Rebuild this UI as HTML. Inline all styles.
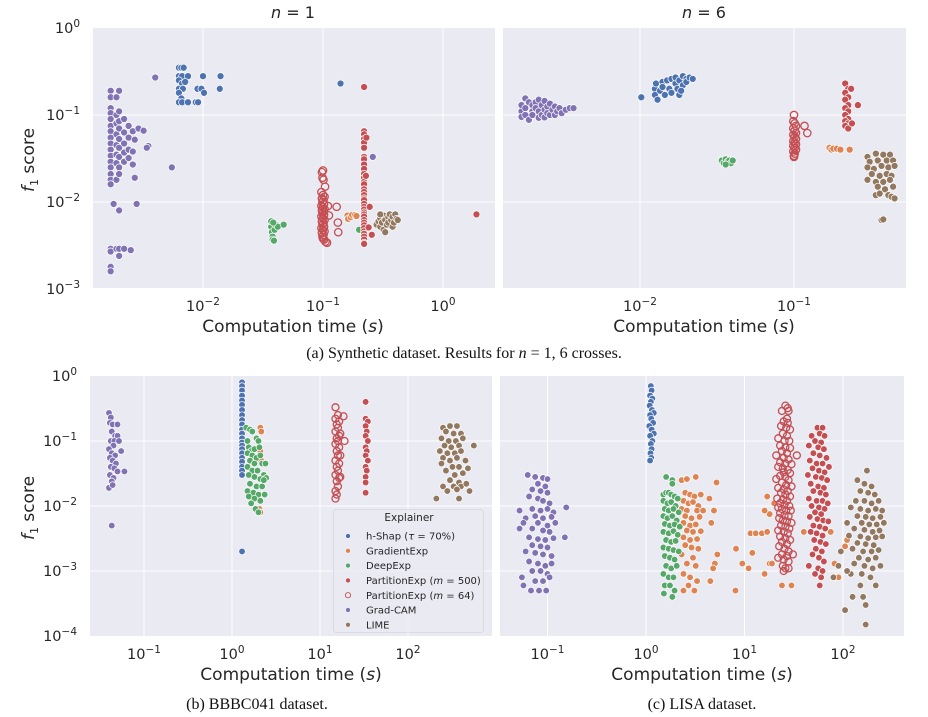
<!DOCTYPE html>
<html><head><meta charset="utf-8"><style>
html,body{margin:0;padding:0;background:#fff;}
svg{display:block;}
</style></head><body>
<svg id="fig" width="928" height="717" viewBox="0 0 928 717" xmlns="http://www.w3.org/2000/svg" font-family="DejaVu Sans, Liberation Sans, sans-serif"></svg>
<script>
// ---------- data (x = computation time s, y = f1 score) ----------
const aL_purple=[[0.0017,0.19],[0.0017,0.16],[0.0017,0.12],[0.0017,0.105],[0.0017,0.09],[0.0017,0.075],[0.0017,0.065],[0.0017,0.055],[0.0017,0.047],[0.0017,0.04],[0.0017,0.034],[0.0017,0.029],[0.0017,0.025],[0.0017,0.021],[0.0017,0.018],[0.0017,0.016],[0.0017,0.0029],[0.0017,0.0027],[0.0017,0.0018],[0.0017,0.0016],[0.0019,0.16],[0.0019,0.1],[0.0019,0.08],[0.0019,0.06],[0.0019,0.045],[0.0019,0.035],[0.0019,0.028],[0.0019,0.018],[0.0018,0.0095],[0.0019,0.0029],[0.002,0.19],[0.002,0.11],[0.002,0.085],[0.002,0.07],[0.002,0.053],[0.002,0.042],[0.002,0.033],[0.002,0.025],[0.002,0.021],[0.002,0.008],[0.002,0.0029],[0.002,0.0024],[0.0022,0.09],[0.0022,0.063],[0.0022,0.047],[0.0022,0.037],[0.0022,0.029],[0.0022,0.0029],[0.0024,0.075],[0.0024,0.055],[0.0024,0.04],[0.0024,0.032],[0.0025,0.0028],[0.0026,0.065],[0.0026,0.038],[0.0026,0.027],[0.0027,0.052],[0.0027,0.019],[0.0028,0.0095],[0.0029,0.07],[0.0032,0.066],[0.0035,0.044],[0.0034,0.042],[0.004,0.27],[0.0055,0.025],[0.26,0.033]];
const aL_blue=[[0.0063,0.35],[0.0066,0.35],[0.0069,0.35],[0.0063,0.28],[0.0067,0.28],[0.0075,0.28],[0.0063,0.25],[0.0067,0.23],[0.0063,0.2],[0.0068,0.2],[0.0063,0.18],[0.0066,0.155],[0.0063,0.14],[0.0067,0.14],[0.0075,0.14],[0.0087,0.14],[0.0091,0.14],[0.009,0.2],[0.0097,0.2],[0.01,0.28],[0.0102,0.18],[0.014,0.28],[0.0138,0.2],[0.0071,0.24],[0.14,0.23]];
const aL_green=[[0.037,0.0052],[0.0375,0.0045],[0.038,0.004],[0.038,0.0037],[0.0395,0.0048],[0.04,0.0055],[0.042,0.0052],[0.047,0.0055],[0.037,0.006],[0.0385,0.0058],[0.039,0.0036],[0.2,0.0048]];
const aL_orange=[[0.16,0.007],[0.162,0.0064],[0.17,0.0067],[0.175,0.0071],[0.185,0.0071],[0.19,0.0069]];
const aL_brown=[[0.28,0.0055],[0.29,0.006],[0.3,0.0052],[0.3,0.0065],[0.31,0.0058],[0.32,0.0048],[0.32,0.007],[0.33,0.0062],[0.34,0.0055],[0.35,0.0067],[0.35,0.0058],[0.36,0.0072],[0.37,0.0062],[0.38,0.0052],[0.38,0.0068],[0.39,0.0058],[0.4,0.0072],[0.41,0.0064],[0.42,0.0062],[0.33,0.0045],[0.3,0.0072]];
const aL_redFilled=[[0.22,0.065],[0.22,0.06],[0.22,0.053],[0.22,0.048],[0.22,0.042],[0.22,0.033],[0.22,0.031],[0.22,0.027],[0.22,0.024],[0.22,0.021],[0.22,0.019],[0.22,0.017],[0.22,0.016],[0.22,0.014],[0.22,0.013],[0.22,0.012],[0.22,0.011],[0.22,0.0105],[0.22,0.0095],[0.22,0.0088],[0.22,0.0082],[0.22,0.0076],[0.22,0.0072],[0.22,0.0068],[0.22,0.0062],[0.22,0.0058],[0.22,0.0054],[0.22,0.005],[0.22,0.0046],[0.22,0.0043],[0.22,0.004],[0.22,0.0037],[0.22,0.0034],[0.22,0.0033],[0.22,0.21],[1.9,0.0072],[0.245,0.0088],[0.24,0.0051],[0.255,0.0042],[0.228,0.02],[0.23,0.055]];
const aL_redOpen=[[0.1,0.023],[0.098,0.022],[0.099,0.019],[0.101,0.018],[0.104,0.015],[0.097,0.013],[0.1,0.012],[0.103,0.0115],[0.098,0.011],[0.101,0.0105],[0.099,0.01],[0.102,0.0095],[0.097,0.009],[0.1,0.0087],[0.103,0.0083],[0.098,0.008],[0.101,0.0077],[0.099,0.0074],[0.102,0.0071],[0.097,0.0068],[0.1,0.0065],[0.103,0.0062],[0.098,0.006],[0.101,0.0057],[0.099,0.0055],[0.102,0.0052],[0.097,0.005],[0.1,0.0048],[0.103,0.0046],[0.098,0.0044],[0.101,0.0042],[0.099,0.004],[0.1,0.0038],[0.102,0.0037],[0.105,0.0035],[0.108,0.0034],[0.13,0.0088],[0.133,0.0058],[0.134,0.0045],[0.11,0.009],[0.112,0.007]];

const aR_purple=[[0.0017,0.11],[0.0017,0.13],[0.0017,0.095],[0.0018,0.155],[0.0018,0.12],[0.0018,0.1],[0.0019,0.14],[0.0019,0.088],[0.002,0.13],[0.002,0.11],[0.002,0.1],[0.0021,0.14],[0.0021,0.12],[0.0022,0.15],[0.0022,0.11],[0.0022,0.093],[0.0023,0.13],[0.0023,0.1],[0.0024,0.145],[0.0024,0.115],[0.0024,0.094],[0.0025,0.125],[0.0025,0.105],[0.0026,0.135],[0.0026,0.1],[0.0027,0.115],[0.0028,0.125],[0.0028,0.1],[0.0029,0.11],[0.003,0.12],[0.0031,0.105],[0.0033,0.115],[0.0035,0.12],[0.0037,0.12]];
const aR_blue=[[0.0102,0.16],[0.0125,0.2],[0.0125,0.17],[0.0127,0.23],[0.013,0.15],[0.0135,0.19],[0.014,0.24],[0.014,0.21],[0.0145,0.17],[0.015,0.25],[0.0155,0.2],[0.016,0.26],[0.016,0.18],[0.017,0.23],[0.017,0.27],[0.0175,0.2],[0.018,0.25],[0.018,0.17],[0.019,0.28],[0.019,0.22],[0.02,0.26],[0.02,0.24],[0.021,0.27],[0.022,0.26],[0.0185,0.19]];
const aR_green=[[0.034,0.03],[0.035,0.028],[0.036,0.031],[0.037,0.029],[0.038,0.03],[0.039,0.028],[0.04,0.03],[0.036,0.027]];
const aR_orange=[[0.17,0.042],[0.175,0.04],[0.18,0.041],[0.19,0.041],[0.2,0.04],[0.23,0.04]];
const aR_brown=[[0.3,0.033],[0.34,0.036],[0.38,0.035],[0.42,0.035],[0.31,0.029],[0.35,0.03],[0.4,0.03],[0.44,0.03],[0.3,0.025],[0.33,0.024],[0.37,0.026],[0.41,0.025],[0.45,0.026],[0.32,0.021],[0.36,0.02],[0.4,0.021],[0.43,0.02],[0.3,0.018],[0.34,0.017],[0.38,0.017],[0.42,0.018],[0.35,0.015],[0.39,0.014],[0.44,0.015],[0.34,0.012],[0.36,0.0125],[0.41,0.012],[0.43,0.0115],[0.45,0.011],[0.37,0.0062],[0.38,0.0063]];
const aR_redFilled=[[0.215,0.23],[0.225,0.2],[0.215,0.18],[0.225,0.16],[0.215,0.15],[0.225,0.13],[0.215,0.12],[0.225,0.11],[0.215,0.1],[0.225,0.09],[0.215,0.085],[0.225,0.08],[0.215,0.075],[0.225,0.07],[0.26,0.13],[0.235,0.2],[0.238,0.08]];
const aR_redOpen=[[0.1,0.1],[0.099,0.085],[0.101,0.08],[0.103,0.075],[0.099,0.07],[0.101,0.066],[0.103,0.062],[0.099,0.059],[0.101,0.056],[0.103,0.053],[0.099,0.05],[0.101,0.048],[0.103,0.046],[0.099,0.044],[0.101,0.042],[0.103,0.04],[0.099,0.038],[0.101,0.036],[0.1,0.034],[0.1,0.033],[0.117,0.075],[0.122,0.062]];

const b_purple=[[0.04,0.27],[0.042,0.23],[0.041,0.19],[0.044,0.18],[0.05,0.18],[0.043,0.14],[0.047,0.12],[0.05,0.12],[0.042,0.1],[0.046,0.1],[0.052,0.1],[0.045,0.085],[0.04,0.075],[0.055,0.07],[0.043,0.065],[0.047,0.06],[0.041,0.055],[0.044,0.05],[0.048,0.045],[0.042,0.04],[0.046,0.038],[0.05,0.034],[0.06,0.034],[0.041,0.03],[0.045,0.027],[0.043,0.024],[0.04,0.019],[0.044,0.021],[0.043,0.005]];
const b_blue=[[1.3,0.8],[1.3,0.7],[1.3,0.6],[1.3,0.5],[1.3,0.42],[1.3,0.36],[1.3,0.3],[1.3,0.25],[1.3,0.21],[1.3,0.18],[1.3,0.15],[1.3,0.13],[1.3,0.11],[1.3,0.095],[1.3,0.085],[1.3,0.075],[1.3,0.065],[1.3,0.055],[1.3,0.048],[1.3,0.04],[1.3,0.035],[1.3,0.03],[1.3,0.002]];
const b_green=[[1.45,0.16],[1.6,0.15],[1.7,0.14],[1.5,0.1],[1.9,0.11],[2.0,0.1],[1.55,0.08],[1.65,0.07],[1.8,0.075],[2.05,0.08],[1.5,0.065],[1.7,0.06],[1.9,0.055],[2.1,0.06],[1.6,0.05],[1.8,0.045],[2.2,0.045],[2.4,0.045],[1.5,0.04],[1.7,0.035],[1.95,0.035],[2.3,0.03],[1.55,0.03],[1.8,0.028],[2.1,0.026],[2.45,0.027],[1.6,0.022],[1.9,0.02],[2.2,0.02],[1.5,0.017],[1.75,0.016],[2.0,0.015],[2.35,0.015],[1.55,0.014],[1.8,0.013],[2.1,0.012],[1.65,0.011],[1.85,0.009],[2.0,0.008],[2.3,0.025]];
const b_orange=[[2.1,0.16],[2.15,0.14],[2.1,0.07],[2.15,0.05],[2.1,0.012],[2.05,0.009],[2.1,0.008]];
const b_brown=[[250,0.16],[300,0.17],[360,0.17],[270,0.14],[330,0.13],[400,0.13],[240,0.11],[290,0.1],[350,0.1],[420,0.11],[560,0.085],[260,0.085],[310,0.08],[380,0.085],[230,0.07],[280,0.065],[340,0.065],[400,0.07],[250,0.055],[300,0.05],[360,0.055],[450,0.05],[240,0.045],[320,0.04],[380,0.04],[480,0.038],[270,0.035],[340,0.03],[420,0.032],[300,0.025],[380,0.023],[250,0.02],[330,0.02],[400,0.02],[460,0.022],[280,0.017],[360,0.018],[500,0.017],[210,0.013],[380,0.013]];
const b_redFilled=[[33,0.4],[33,0.22],[35,0.2],[33,0.17],[34,0.14],[33,0.12],[35,0.1],[33,0.08],[34,0.07],[33,0.06],[35,0.05],[33,0.04],[34,0.035],[33,0.028],[33,0.023],[33,0.016]];
const b_redOpen=[[15,0.33],[16,0.25],[15,0.22],[16.5,0.2],[15.5,0.18],[16,0.16],[15,0.14],[16.5,0.12],[15.5,0.11],[16,0.1],[15,0.09],[16.5,0.08],[15.5,0.07],[16,0.06],[15,0.05],[16.5,0.045],[15.5,0.04],[16,0.035],[15,0.03],[16.5,0.027],[15.5,0.024],[16,0.02],[15,0.017],[15.5,0.015],[15,0.013],[18.5,0.24],[19,0.1],[17,0.13],[17,0.06],[17,0.028]];

const c_purple=[[0.063,0.03],[0.075,0.028],[0.09,0.027],[0.1,0.026],[0.08,0.022],[0.095,0.02],[0.07,0.018],[0.085,0.017],[0.1,0.016],[0.065,0.014],[0.08,0.013],[0.09,0.012],[0.105,0.011],[0.155,0.0095],[0.052,0.0085],[0.07,0.009],[0.085,0.0085],[0.1,0.009],[0.115,0.008],[0.06,0.0065],[0.075,0.007],[0.09,0.0065],[0.11,0.0068],[0.057,0.0055],[0.08,0.0055],[0.1,0.005],[0.12,0.0055],[0.052,0.0045],[0.07,0.0045],[0.09,0.0042],[0.105,0.004],[0.15,0.0033],[0.065,0.0033],[0.08,0.0031],[0.095,0.003],[0.115,0.0032],[0.07,0.0025],[0.085,0.0024],[0.1,0.0023],[0.06,0.002],[0.075,0.0019],[0.09,0.0018],[0.11,0.0017],[0.065,0.0014],[0.08,0.0013],[0.095,0.0012],[0.11,0.0013],[0.07,0.001],[0.085,0.001],[0.1,0.0009],[0.055,0.0008],[0.075,0.0007],[0.09,0.0007],[0.105,0.0008],[0.057,0.0006],[0.068,0.0005],[0.082,0.0005],[0.097,0.0005]];
const c_blue=[[1.12,0.7],[1.14,0.6],[1.1,0.5],[1.16,0.45],[1.12,0.4],[1.09,0.35],[1.15,0.3],[1.2,0.27],[1.1,0.25],[1.13,0.22],[1.18,0.19],[1.08,0.17],[1.14,0.15],[1.2,0.13],[1.1,0.12],[1.16,0.1],[1.12,0.09],[1.14,0.075],[1.11,0.065],[1.13,0.055],[1.1,0.05]];
const c_orange=[[2.3,0.025],[2.6,0.026],[3.2,0.028],[5.2,0.023],[2.5,0.016],[2.8,0.015],[3.1,0.014],[3.6,0.015],[4.4,0.013],[2.4,0.012],[2.7,0.011],[3.0,0.0115],[3.4,0.01],[2.3,0.009],[2.6,0.0085],[3.3,0.0085],[3.8,0.0085],[4.9,0.0085],[2.5,0.007],[2.9,0.0065],[3.5,0.0068],[2.4,0.0055],[2.8,0.005],[3.2,0.0052],[4.6,0.0055],[2.6,0.0042],[3.0,0.004],[3.6,0.0041],[2.4,0.0033],[2.8,0.003],[3.3,0.0031],[2.5,0.0025],[2.9,0.0023],[3.4,0.0022],[2.3,0.0018],[3.0,0.0016],[2.6,0.0013],[3.2,0.0012],[2.4,0.0009],[2.8,0.0008],[3.3,0.0007],[2.7,0.0006],[2.4,0.0005],[3.1,0.0005],[5.3,0.0018],[5.0,0.0013],[4.8,0.0011],[4.5,0.0007],[8.2,0.0022],[9.5,0.0013],[11,0.0011],[12,0.0019],[8.1,0.0005],[11.5,0.0038],[13,0.0038],[15,0.0038],[17,0.004],[16,0.0009],[18,0.0013],[19,0.0013],[18,0.0075],[20,0.011],[17,0.014],[16,0.0085],[24,0.0006],[30,0.0006],[82,0.0013],[85,0.0008],[90,0.0008],[105,0.0024],[110,0.003],[40,0.004],[75,0.004]];
const c_green=[[1.6,0.028],[1.85,0.025],[1.85,0.022],[1.5,0.015],[1.6,0.016],[1.7,0.016],[1.8,0.015],[1.95,0.014],[2.1,0.013],[1.5,0.012],[1.65,0.011],[1.8,0.0115],[2.0,0.01],[1.55,0.009],[1.7,0.0085],[1.9,0.009],[2.15,0.008],[1.5,0.007],[1.65,0.0065],[1.85,0.007],[2.05,0.006],[1.55,0.0053],[1.75,0.005],[1.95,0.0052],[2.2,0.0048],[1.5,0.004],[1.7,0.0038],[1.9,0.0041],[2.1,0.0036],[1.6,0.003],[1.8,0.0028],[2.0,0.0029],[1.5,0.0023],[1.7,0.0022],[1.9,0.0021],[2.15,0.002],[1.55,0.0017],[1.75,0.0016],[1.95,0.0015],[1.6,0.0012],[1.8,0.0011],[2.05,0.0012],[1.5,0.0009],[1.7,0.0008],[1.9,0.0008],[1.55,0.0006],[1.75,0.0006],[1.95,0.0005],[1.52,0.00045],[1.85,0.0004]];
const c_brown=[[175,0.035],[140,0.025],[165,0.022],[195,0.02],[150,0.017],[180,0.016],[210,0.015],[135,0.012],[165,0.012],[195,0.011],[230,0.012],[120,0.0095],[150,0.009],[180,0.0085],[215,0.009],[250,0.0085],[140,0.007],[170,0.0068],[200,0.0065],[240,0.0068],[110,0.0055],[155,0.0055],[185,0.0052],[220,0.0052],[260,0.0055],[130,0.0045],[165,0.0043],[200,0.004],[235,0.0042],[115,0.0035],[150,0.0034],[180,0.0032],[215,0.0033],[250,0.0034],[140,0.0027],[170,0.0026],[205,0.0025],[125,0.0022],[160,0.002],[195,0.002],[230,0.0021],[145,0.0016],[180,0.0015],[215,0.0016],[130,0.0013],[165,0.0012],[200,0.0011],[240,0.0012],[120,0.0009],[155,0.0009],[190,0.0008],[150,0.0006],[215,0.0006],[125,0.0004],[160,0.0004],[105,0.00025],[170,0.0003],[170,0.00015],[90,0.0012],[80,0.0008],[95,0.002],[110,0.001]];
const c_redFilled=[[55,0.16],[62,0.16],[48,0.12],[58,0.13],[65,0.12],[52,0.1],[60,0.095],[45,0.085],[56,0.08],[64,0.075],[50,0.065],[58,0.06],[68,0.055],[46,0.05],[54,0.045],[62,0.045],[72,0.04],[49,0.038],[57,0.035],[65,0.033],[44,0.03],[53,0.028],[61,0.027],[69,0.025],[47,0.022],[56,0.02],[64,0.019],[50,0.017],[59,0.016],[67,0.015],[45,0.013],[54,0.012],[62,0.012],[70,0.011],[48,0.01],[57,0.0095],[65,0.009],[52,0.008],[60,0.0075],[46,0.0068],[55,0.0063],[63,0.006],[71,0.0058],[50,0.005],[58,0.0048],[66,0.0045],[47,0.004],[54,0.0038],[62,0.0035],[51,0.003],[59,0.0028],[67,0.0026],[53,0.0022],[61,0.002],[49,0.0018],[57,0.0016],[64,0.0014],[45,0.0012],[56,0.0011],[62,0.001],[52,0.0009],[60,0.0008],[58,0.0006]];
const c_redOpen=[[26,0.35],[27.5,0.32],[24,0.29],[28,0.29],[27,0.22],[25,0.2],[27.5,0.19],[23.5,0.17],[26.5,0.16],[29,0.15],[24.5,0.13],[27,0.12],[22,0.11],[25.5,0.1],[28.5,0.1],[23,0.085],[26,0.08],[29,0.078],[24,0.07],[27,0.065],[34,0.06],[21,0.06],[25,0.055],[28,0.052],[23,0.047],[26,0.045],[30,0.044],[22,0.04],[24.5,0.038],[27.5,0.036],[25,0.033],[29,0.032],[23,0.029],[26,0.028],[21,0.026],[28,0.025],[24,0.023],[26.5,0.021],[30,0.02],[22,0.019],[25,0.018],[27.5,0.017],[23.5,0.016],[26,0.015],[29,0.014],[21.5,0.013],[24.5,0.0125],[27,0.012],[23,0.011],[25.5,0.0105],[28.5,0.01],[22,0.0095],[24,0.009],[26.5,0.0085],[29.5,0.0085],[23,0.0078],[25.5,0.0072],[28,0.007],[22.5,0.0065],[24.5,0.006],[27,0.0058],[30,0.0055],[23.5,0.005],[26,0.0048],[28.5,0.0045],[22,0.0042],[25,0.004],[27.5,0.0038],[23,0.0034],[26,0.0032],[29,0.003],[24,0.0028],[27,0.0026],[22.5,0.0024],[25.5,0.0022],[28,0.002],[24,0.0018],[27,0.0017],[31,0.0018],[25,0.0015],[28,0.0014],[22,0.0016],[24.5,0.0012],[26,0.0011],[28,0.0011],[25,0.001]];

const legendLabels=["h-Shap (\u03c4 = 70%)","GradientExp","DeepExp","PartitionExp (m = 500)","PartitionExp (m = 64)","Grad-CAM","LIME"];

// ---------- drawing ----------
const NS="http://www.w3.org/2000/svg";
const svg=document.getElementById('fig');
const COL={blue:'#4c72b0',orange:'#dd8452',green:'#55a868',red:'#c44e52',purple:'#8172b3',brown:'#937860'};
function mk(tag,attrs,parent){const e=document.createElementNS(NS,tag);for(const k in attrs)e.setAttribute(k,attrs[k]);(parent||svg).appendChild(e);return e;}
function logX(p,v){return p.xc+p.xs*Math.log10(v);}
function logY(p,v){return p.yc-p.ys*Math.log10(v);}
function supText(x,y,exp,anchor,parent,name){
  const t=mk('text',{x:x,y:y,'font-size':14.5,fill:'#262626','text-anchor':anchor},parent);
  
  
  t.appendChild(document.createTextNode('10'));
  const s=mk('tspan',{dy:-6,'font-size':10.5},t);s.textContent=(exp<0?'\u2212'+(-exp):''+exp);
  return t;
}
function panel(p,name,series){
  const g=mk('g',{});
  
  
  const bg=mk('rect',{x:p.x0,y:p.y0,width:p.x1-p.x0,height:p.y1-p.y0,fill:'#eaeaf2'},g);
  
  
  const clipId='clip-'+name;
  const cp=mk('clipPath',{id:clipId},g);mk('rect',{x:p.x0,y:p.y0,width:p.x1-p.x0,height:p.y1-p.y0},cp);
  p.xt.forEach(e=>{const x=p.xc+p.xs*e;
    const l=mk('line',{x1:x,x2:x,y1:p.y0,y2:p.y1,stroke:'#fff','stroke-width':1},g);
    
    
    supText(x,p.y1+23,e,'middle',g,'x-tick-label');});
  p.yt.forEach(e=>{const y=p.yc-p.ys*e; if(y>p.y0+1&&y<p.y1-1){
    const l=mk('line',{x1:p.x0,x2:p.x1,y1:y,y2:y,stroke:'#fff','stroke-width':1},g);
    
    }
    if(p.ylab) supText(p.x0-13,y+5,e,'end',g,'y-tick-label');});
  const mg=mk('g',{'clip-path':'url(#'+clipId+')'},g);
  series.forEach(s=>{
    s.data.forEach(d=>{
      const cx=logX(p,d[0]),cy=logY(p,d[1]);
      let c;
      if(s.open){c=mk('circle',{cx:cx,cy:cy,r:p.r+0.2,fill:'none',stroke:COL.red,'stroke-width':1.3},mg);}
      else{c=mk('circle',{cx:cx,cy:cy,r:p.r,fill:COL[s.c],stroke:'#fff','stroke-width':0.7},mg);}
      
      
    });
  });
  const xl=mk('text',{x:(p.lx),y:p.y1+44,'font-size':17,fill:'#262626','text-anchor':'middle'},g);
  
  
  xl.innerHTML='Computation time (<tspan font-style="italic">s</tspan>)';
  if(p.ylab){
    const cy=(p.y0+p.y1)/2+2;
    const yl=mk('text',{x:0,y:0,'font-size':17,fill:'#262626','text-anchor':'middle',transform:'translate(34,'+cy+') rotate(-90)'},g);
    
    
    yl.innerHTML='<tspan font-style="italic">f</tspan><tspan font-size="11" dy="4">1</tspan><tspan dy="-4"> score</tspan>';
  }
}
const PA={x0:93,x1:495,y0:28,y1:288,xc:443,xs:120,yc:28,ys:87,xt:[-2,-1,0],yt:[0,-1,-2,-3],ylab:true,lx:293,r:3.5};
const PR={x0:503,x1:906,y0:28,y1:288,xc:948,xs:154,yc:28,ys:87,xt:[-2,-1],yt:[0,-1,-2,-3],ylab:false,lx:704,r:3.5};
const PB={x0:90,x1:492,y0:376,y1:636,xc:232,xs:88,yc:376,ys:65,xt:[-1,0,1,2],yt:[0,-1,-2,-3,-4],ylab:true,lx:291,r:3.3};
const PC={x0:500,x1:904,y0:376,y1:636,xc:646,xs:98.5,yc:376,ys:65,xt:[-1,0,1,2],yt:[0,-1,-2,-3,-4],ylab:false,lx:702,r:3.3};
panel(PA,'panel-a-n1',[{n:'grad-cam',c:'purple',data:aL_purple},{n:'h-shap',c:'blue',data:aL_blue},{n:'deepexp',c:'green',data:aL_green},{n:'gradientexp',c:'orange',data:aL_orange},{n:'lime',c:'brown',data:aL_brown},{n:'partition-500',c:'red',data:aL_redFilled},{n:'partition-64',open:true,data:aL_redOpen}]);
panel(PR,'panel-a-n6',[{n:'grad-cam',c:'purple',data:aR_purple},{n:'h-shap',c:'blue',data:aR_blue},{n:'deepexp',c:'green',data:aR_green},{n:'gradientexp',c:'orange',data:aR_orange},{n:'lime',c:'brown',data:aR_brown},{n:'partition-500',c:'red',data:aR_redFilled},{n:'partition-64',open:true,data:aR_redOpen}]);
panel(PB,'panel-b-bbbc041',[{n:'grad-cam',c:'purple',data:b_purple},{n:'h-shap',c:'blue',data:b_blue},{n:'gradientexp',c:'orange',data:b_orange},{n:'deepexp',c:'green',data:b_green},{n:'lime',c:'brown',data:b_brown},{n:'partition-500',c:'red',data:b_redFilled},{n:'partition-64',open:true,data:b_redOpen}]);
panel(PC,'panel-c-lisa',[{n:'grad-cam',c:'purple',data:c_purple},{n:'h-shap',c:'blue',data:c_blue},{n:'gradientexp',c:'orange',data:c_orange},{n:'deepexp',c:'green',data:c_green},{n:'lime',c:'brown',data:c_brown},{n:'partition-500',c:'red',data:c_redFilled},{n:'partition-64',open:true,data:c_redOpen}]);

// titles
const t1=mk('text',{x:293,y:18,'font-size':16,fill:'#262626','text-anchor':'middle'});


t1.innerHTML='<tspan font-style="italic">n</tspan> = 1';
const t2=mk('text',{x:704,y:18,'font-size':16,fill:'#262626','text-anchor':'middle'});


t2.innerHTML='<tspan font-style="italic">n</tspan> = 6';

// captions
function cap(x,y,html,name){const t=mk('text',{x:x,y:y,'font-size':16,fill:'#111','text-anchor':'middle','font-family':'Liberation Serif, serif'});
  
  
  t.innerHTML=html;}
cap(464,358,'(a) Synthetic dataset. Results for <tspan font-style="italic">n</tspan> = 1, 6 crosses.','caption-a');
cap(257,709,'(b) BBBC041 dataset.','caption-b');
cap(702,709,'(c) LISA dataset.','caption-c');

// legend
const lg=mk('g',{});


const lb=mk('rect',{x:333.5,y:509.5,width:150,height:123,rx:3,fill:'#eaeaf2','fill-opacity':0.85,stroke:'#d6d6de','stroke-width':0.8},lg);


const lt=mk('text',{x:409,y:521,'font-size':10.5,fill:'#262626','text-anchor':'middle'},lg);


lt.textContent='Explainer';
const legCols=['blue','orange','green','red','red','purple','brown'];
legendLabels.forEach((lab,i)=>{
  const y=536+i*14.8;
  let m;
  if(i===4){m=mk('circle',{cx:348,cy:y,r:2.6,fill:'none',stroke:COL.red,'stroke-width':0.9},lg);}
  else{m=mk('circle',{cx:348,cy:y,r:2.4,fill:COL[legCols[i]],stroke:'#fff','stroke-width':0.5},lg);}
  
  
  const t=mk('text',{x:366,y:y+3.6,'font-size':10,fill:'#262626'},lg);
  
  
  if(lab.indexOf('m = ')>=0){t.innerHTML=lab.replace('m = ','<tspan font-style="italic">m</tspan> = ');}
  else if(lab.indexOf('\u03c4')>=0){t.innerHTML=lab.replace('\u03c4','<tspan font-style="italic">\u03c4</tspan>');}
  else t.textContent=lab;
});
</script>
</body></html>
